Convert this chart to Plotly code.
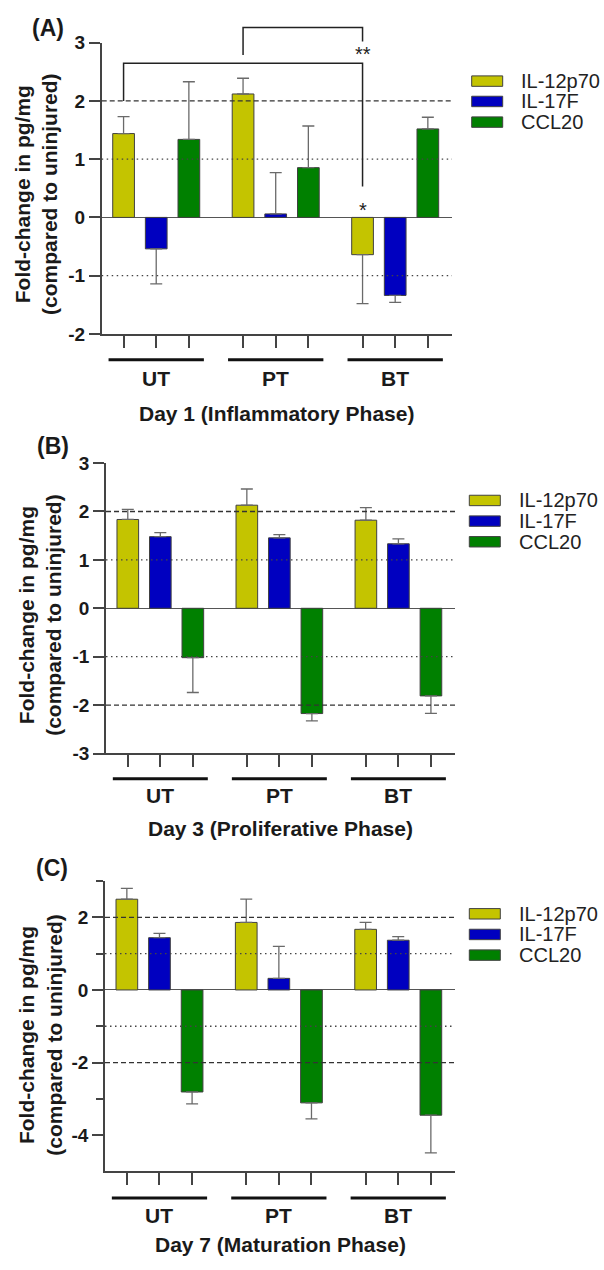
import plotly.graph_objects as go

# ---------------- data ----------------
groups = ["UT", "PT", "BT"]
cytokines = ["IL-12p70", "IL-17F", "CCL20"]
colors = ["#c4c400", "#0000c0", "#008000"]

# Day 1 (Inflammatory Phase)
il12_d1 = [1.44, 2.12, -0.64]
il12_d1_err = [0.29, 0.27, 0.84]
il17_d1 = [-0.54, 0.06, -1.34]
il17_d1_err = [0.60, 0.71, 0.12]
ccl20_d1 = [1.34, 0.855, 1.52]
ccl20_d1_err = [0.99, 0.715, 0.20]

# Day 3 (Proliferative Phase)
il12_d3 = [1.835, 2.13, 1.82]
il12_d3_err = [0.21, 0.335, 0.26]
il17_d3 = [1.48, 1.455, 1.333]
il17_d3_err = [0.085, 0.065, 0.10]
ccl20_d3 = [-1.02, -2.175, -1.81]
ccl20_d3_err = [0.72, 0.15, 0.36]

# Day 7 (Maturation Phase)
il12_d7 = [2.50, 1.86, 1.67]
il12_d7_err = [0.30, 0.64, 0.19]
il17_d7 = [1.44, 0.32, 1.37]
il17_d7_err = [0.12, 0.88, 0.10]
ccl20_d7 = [-2.81, -3.11, -3.45]
ccl20_d7_err = [0.33, 0.44, 1.04]

panel_titles = ["Day 1 (Inflammatory Phase)", "Day 3 (Proliferative Phase)", "Day 7 (Maturation Phase)"]
panel_labels = ["(A)", "(B)", "(C)"]
ytitle = "Fold-change in pg/mg<br>(compared to uninjured)"

# significance (panel A): bracket end y values (data units) and labels
sig_bracket1 = {"from": (0, 0), "to": (2, 0), "y_start": 2.0, "y_top": 2.65, "y_end": 0.53}
sig_bracket2 = {"from": (1, 0), "to": (2, 0), "y_start": 2.79, "y_top": 3.26, "y_end": 3.02}
sig_label_double = ("**", 2.81)
sig_label_single = ("*", 0.12)

# ---------------- layout geometry ----------------
W, H = 604, 1270
def px(p):
    return p / W
def py(p):
    return 1 - p / H

G = 3.66          # spacing between groups (in bar steps)
BW = 0.665        # bar width
XR = [-0.67, 10.06]

def xpos(g, i):
    return g * G + i

panels = [
    dict(vals=[(il12_d1, il12_d1_err), (il17_d1, il17_d1_err), (ccl20_d1, ccl20_d1_err)],
         xdom=(101.7, 452), ydom=(33.3, 329.3), yr=(-2, 3),
         major=[-2, -1, 0, 1, 2, 3], minor=[],
         dashed=[2], dotted=[1, -1],
         line_y=355.7, lab_y=375, title_y=410, plab=(48, 18), ytitle_xy=(36, 187),
         leg_y=[72.3, 93, 114], leg_x=471.7, leg_tx=519),
    dict(vals=[(il12_d3, il12_d3_err), (il17_d3, il17_d3_err), (ccl20_d3, ccl20_d3_err)],
         xdom=(106, 455), ydom=(460.7, 756), yr=(-3, 3),
         major=[-3, -2, -1, 0, 1, 2, 3], minor=[],
         dashed=[2, -2], dotted=[1, -1],
         line_y=781.7, lab_y=799, title_y=832, plab=(52.5, 443), ytitle_xy=(40, 615),
         leg_y=[498.7, 519.7, 540.7], leg_x=469.3, leg_tx=517),
    dict(vals=[(il12_d7, il12_d7_err), (il17_d7, il17_d7_err), (ccl20_d7, ccl20_d7_err)],
         xdom=(105, 455), ydom=(885.7, 1181), yr=(-5, 3),
         major=[-4, -2, 0, 2], minor=[-3, -1, 1, 3],
         dashed=[2, -2], dotted=[1, -1],
         line_y=1208, lab_y=1226, title_y=1255, plab=(52, 872), ytitle_xy=(40, 1042),
         leg_y=[919, 940, 961], leg_x=469.3, leg_tx=517),
]

FONT = "Liberation Sans, Arial, Helvetica, sans-serif"
AXC = "#444444"
TXT = "#1a1a1a"

fig = go.Figure()
shapes = []
annotations = []
layout = dict(width=W, height=H, margin=dict(l=0, r=0, t=0, b=0),
              paper_bgcolor="white", plot_bgcolor="white", showlegend=False,
              barmode="overlay", font=dict(family=FONT, color=TXT))

for k, p in enumerate(panels):
    n = "" if k == 0 else str(k + 1)
    xa, ya = "x" + n, "y" + n
    xkey, ykey = "xaxis" + n, "yaxis" + n

    for i, (vals, errs) in enumerate(p["vals"]):
        xs = [xpos(g, i) for g in range(len(groups))]
        up = [e if v >= 0 else 0 for v, e in zip(vals, errs)]
        dn = [e if v < 0 else 0 for v, e in zip(vals, errs)]
        fig.add_trace(go.Bar(
            x=xs, y=vals, width=BW, name=cytokines[i], xaxis=xa, yaxis=ya,
            marker=dict(color=colors[i], line=dict(color="#404040", width=1)),
            error_y=dict(type="data", symmetric=False, array=up, arrayminus=dn,
                         color="#6a6a6a", thickness=1.3, width=6),
            hoverinfo="skip"))

    tickv = [xpos(g, i) for g in range(len(groups)) for i in range(3)]
    layout[xkey] = dict(domain=[px(p["xdom"][0]), px(p["xdom"][1])], range=XR,
                        anchor=ya, showgrid=False, zeroline=False,
                        showline=True, linecolor=AXC, linewidth=1.5,
                        tickmode="array", tickvals=tickv, showticklabels=False,
                        ticks="outside", ticklen=12, tickwidth=1.5, tickcolor=AXC,
                        fixedrange=True)
    yax = dict(domain=[py(p["ydom"][1]), py(p["ydom"][0])], range=list(p["yr"]),
               anchor=xa, showgrid=False, zeroline=True, zerolinecolor="#555555",
               zerolinewidth=1.2, showline=True, linecolor=AXC, linewidth=1.5,
               tickmode="array", tickvals=p["major"],
               ticktext=[str(v) for v in p["major"]],
               ticks="outside", ticklen=11, tickwidth=1.5, tickcolor=AXC,
               tickfont=dict(family=FONT, size=19, color=TXT, weight="bold"),
               fixedrange=True)
    if p["minor"]:
        yax["minor"] = dict(tickmode="array", tickvals=p["minor"], ticks="outside",
                            ticklen=7, tickwidth=1.5, tickcolor=AXC)
    layout[ykey] = yax

    # reference lines
    for v in p["dashed"]:
        shapes.append(dict(type="line", xref=xa + " domain", yref=ya, x0=0, x1=1, y0=v, y1=v,
                           line=dict(color="#333333", width=1.3, dash="5px,3px"), layer="above"))
    for v in p["dotted"]:
        shapes.append(dict(type="line", xref=xa + " domain", yref=ya, x0=0, x1=1, y0=v, y1=v,
                           line=dict(color="#444444", width=1.3, dash="1.5px,3.5px"), layer="above"))

    # group underline bars and labels
    for g, name in enumerate(groups):
        c = xpos(g, 1)
        shapes.append(dict(type="line", xref=xa, yref="paper", x0=c - 1.46, x1=c + 1.46,
                           y0=py(p["line_y"]), y1=py(p["line_y"]),
                           line=dict(color="#111111", width=3)))
        annotations.append(dict(text="<b>%s</b>" % name, xref=xa, yref="paper", x=c,
                                y=py(p["lab_y"]), showarrow=False, xanchor="center",
                                yanchor="middle", font=dict(size=21, color=TXT)))
    # x title
    annotations.append(dict(text="<b>%s</b>" % panel_titles[k], xref=xa + " domain", yref="paper",
                            x=0.5, y=py(p["title_y"]), showarrow=False, xanchor="center",
                            yanchor="middle", font=dict(size=21, color=TXT)))
    # panel label
    annotations.append(dict(text="<b>%s</b>" % panel_labels[k], xref="paper", yref="paper",
                            x=px(p["plab"][0]), y=py(p["plab"][1]), showarrow=False,
                            xanchor="center", yanchor="middle", font=dict(size=23, color=TXT)))
    # y title
    annotations.append(dict(text="<b>%s</b>" % ytitle.replace("<br>", "</b><br><b>"),
                            xref="paper", yref="paper",
                            x=px(p["ytitle_xy"][0]), y=py(p["ytitle_xy"][1]), textangle=-90,
                            showarrow=False, xanchor="center", yanchor="middle",
                            font=dict(size=21, color=TXT)))
    # legend
    for i, name in enumerate(cytokines):
        cy = p["leg_y"][i]
        shapes.append(dict(type="rect", xref="paper", yref="paper",
                           x0=px(p["leg_x"]), x1=px(p["leg_x"] + 31),
                           y0=py(cy + 5.3), y1=py(cy - 5.3),
                           fillcolor=colors[i], line=dict(color="#404040", width=1)))
        annotations.append(dict(text=name, xref="paper", yref="paper", x=px(p["leg_tx"]),
                                y=py(cy), showarrow=False, xanchor="left", yanchor="middle",
                                font=dict(size=20, color="#222222")))

# significance brackets in panel A
pA = panels[0]
def ya_paper(v):
    d0, d1 = py(pA["ydom"][1]), py(pA["ydom"][0])
    r0, r1 = pA["yr"]
    return d0 + (v - r0) / (r1 - r0) * (d1 - d0)

for b in (sig_bracket1, sig_bracket2):
    xa0 = xpos(*b["from"])
    xa1 = xpos(*b["to"])
    path = "M %f,%f L %f,%f L %f,%f L %f,%f" % (
        xa0, ya_paper(b["y_start"]), xa0, ya_paper(b["y_top"]),
        xa1, ya_paper(b["y_top"]), xa1, ya_paper(b["y_end"]))
    shapes.append(dict(type="path", xref="x", yref="paper", path=path,
                       line=dict(color="#222222", width=1.5)))

xbt = xpos(2, 0)
annotations.append(dict(text=sig_label_double[0], xref="x", yref="paper", x=xbt,
                        y=ya_paper(sig_label_double[1]), showarrow=False, xanchor="center",
                        yanchor="middle", font=dict(size=20, color="#222222")))
annotations.append(dict(text=sig_label_single[0], xref="x", yref="y", x=xbt,
                        y=sig_label_single[1], showarrow=False, xanchor="center",
                        yanchor="middle", font=dict(size=20, color="#222222")))

layout["shapes"] = shapes
layout["annotations"] = annotations
fig.update_layout(**layout)
fig.write_html("out.html", config={"displayModeBar": False},
               post_script="document.body.style.margin='0';document.body.style.overflow='hidden';")
